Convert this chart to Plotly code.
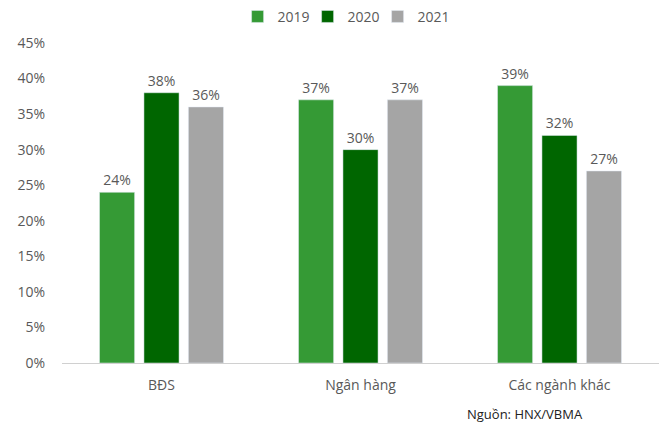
import plotly.graph_objects as go

categories = ["BĐS", "Ngân hàng", "Các ngành khác"]
years = ["2019", "2020", "2021"]
values_2019 = [0.24, 0.37, 0.39]
values_2020 = [0.38, 0.30, 0.32]
values_2021 = [0.36, 0.37, 0.27]
colors = ["#359a35", "#006600", "#a5a5a5"]
yticks = [0, 0.05, 0.10, 0.15, 0.20, 0.25, 0.30, 0.35, 0.40, 0.45]

fig = go.Figure()
for name, vals, col in zip(years, [values_2019, values_2020, values_2021], colors):
    fig.add_trace(go.Bar(
        x=categories, y=vals, name=name, marker_color=col,
        text=[f"{round(v*100)}%" for v in vals], textposition="outside",
        textfont=dict(size=14, color="#595959"), cliponaxis=False,
    ))

fig.update_layout(
    width=659, height=425,
    margin=dict(l=62, r=0, t=33, b=62),
    plot_bgcolor="white", paper_bgcolor="white",
    font=dict(family="Open Sans, sans-serif", size=13, color="#595959"),
    barmode="group", bargap=0.33, bargroupgap=0.21,
    legend=dict(orientation="h", x=0.47, xanchor="center", y=0.998, yanchor="top",
                yref="container", font=dict(size=14, color="#595959"),
                itemwidth=30, entrywidth=25, entrywidthmode="pixels",
                traceorder="normal"),
    showlegend=True,
)
fig.update_yaxes(range=[0, 0.45], tickvals=yticks, tickformat=".0%", showgrid=False,
                 zeroline=False, showline=False, ticks="", ticklabelstandoff=16,
                 tickfont=dict(size=14, color="#595959"))
fig.update_xaxes(showline=True, linecolor="#d0d0d0", linewidth=1, ticks="",
                 tickfont=dict(size=14, color="#595959"), ticklabelstandoff=9)
fig.add_annotation(text="Nguồn: HNX/VBMA", xref="paper", yref="paper", x=0.775, y=-0.158,
                   xanchor="center", yanchor="middle", showarrow=False,
                   font=dict(size=13, color="#222222"))
fig.write_html("out.html")
